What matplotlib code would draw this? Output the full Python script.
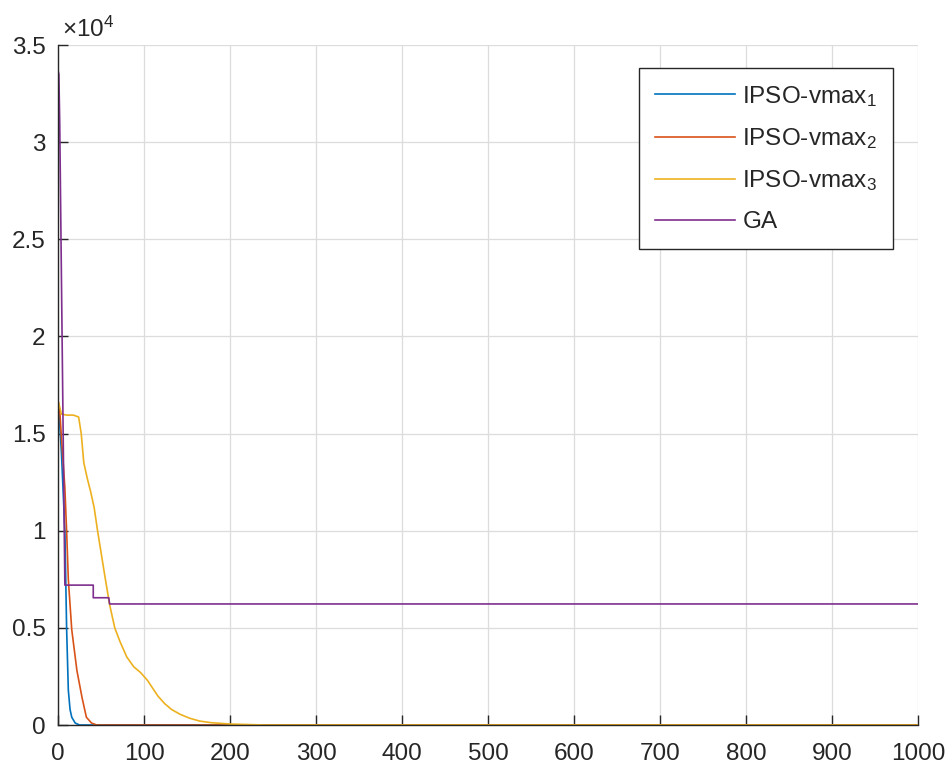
import matplotlib
matplotlib.use("Agg")
import matplotlib.pyplot as plt
import numpy as np

plt.rcParams['font.family'] = ['Liberation Sans', 'DejaVu Sans']
plt.rcParams['mathtext.fontset'] = 'custom'
plt.rcParams['mathtext.rm'] = 'Liberation Sans'
plt.rcParams['mathtext.it'] = 'Liberation Sans'

labels = ['IPSO-vmax$_1$', 'IPSO-vmax$_2$', 'IPSO-vmax$_3$', 'GA']
colors = ['#0072BD', '#D95319', '#EDB120', '#7E2F8E']

# IPSO-vmax1
x1 = [0, 2, 4, 6, 8, 10, 12, 14, 16, 20, 25, 1000]
y1 = [16500, 15500, 14000, 12000, 10000, 5000, 1800, 800, 400, 100, 0, 0]
# IPSO-vmax2
x2 = [0, 2, 4, 6, 8, 10, 12, 16, 22, 28, 33, 39, 45, 1000]
y2 = [16700, 16200, 14800, 13500, 12200, 10000, 7500, 4900, 2800, 1400, 400, 100, 0, 0]
# IPSO-vmax3
x3 = [0, 4, 10, 18, 24, 27, 30, 34, 38, 42, 46, 50, 54, 60, 66, 72, 80, 88,
      96, 104, 110, 116, 124, 132, 142, 153, 165, 178, 200, 240, 1000]
y3 = [16700, 16000, 15950, 15950, 15850, 15000, 13500, 12700, 12000, 11200,
      10000, 8900, 7800, 6200, 5000, 4300, 3500, 3000, 2700, 2300, 1900, 1500,
      1100, 800, 550, 350, 200, 120, 50, 0, 0]
# GA
x4 = [0, 1, 2, 3, 4, 5, 6, 7, 8, 41, 41, 59, 60, 1000]
y4 = [33700, 33500, 31000, 27000, 23000, 19000, 15000, 11000, 7200, 7200,
      6550, 6550, 6230, 6230]

xticks = list(range(0, 1001, 100))
yticks = [0, 5000, 10000, 15000, 20000, 25000, 30000, 35000]
ytick_labels = ['0', '0.5', '1', '1.5', '2', '2.5', '3', '3.5']

fs = 17.5
fig = plt.figure(figsize=(9.52, 7.72), dpi=100)
ax = fig.add_axes([58/952, 47/772, 860/952, 680/772])

for xs, ys, c, lab in zip([x1, x2, x3, x4], [y1, y2, y3, y4], colors, labels):
    ax.plot(xs, ys, color=c, lw=1.2, label=lab)

ax.set_xlim(0, 1000)
ax.set_ylim(0, 35000)
ax.set_xticks(xticks)
ax.set_xticklabels([str(v) for v in xticks])
ax.set_yticks(yticks)
ax.set_yticklabels(ytick_labels)

tc = '#262626'
ax.grid(True, color='#dcdcdc', lw=0.9)
ax.set_axisbelow(True)
for s in ['top', 'right']:
    ax.spines[s].set_visible(False)
for s in ['left', 'bottom']:
    ax.spines[s].set_color(tc)
    ax.spines[s].set_linewidth(1.0)
ax.tick_params(axis='both', direction='in', length=7, width=1.0, color=tc,
               labelcolor=tc, labelsize=fs)
ax.tick_params(axis='x', pad=13)
ax.tick_params(axis='y', pad=9)

ax.text(0.005, 1.004, r'$\times$10$^{4}$', transform=ax.transAxes,
        ha='left', va='bottom', fontsize=fs, color=tc)

leg = ax.legend(loc='upper right', bbox_to_anchor=((893-58)/860, (727-70)/680),
                fontsize=fs, frameon=True, fancybox=False, framealpha=1,
                edgecolor=tc, handlelength=3.3, handletextpad=0.3,
                labelspacing=0.72, borderpad=0.65, borderaxespad=0)
leg.get_frame().set_linewidth(1.0)
for t in leg.get_texts():
    t.set_color(tc)

fig.savefig('out.png', dpi=100)
